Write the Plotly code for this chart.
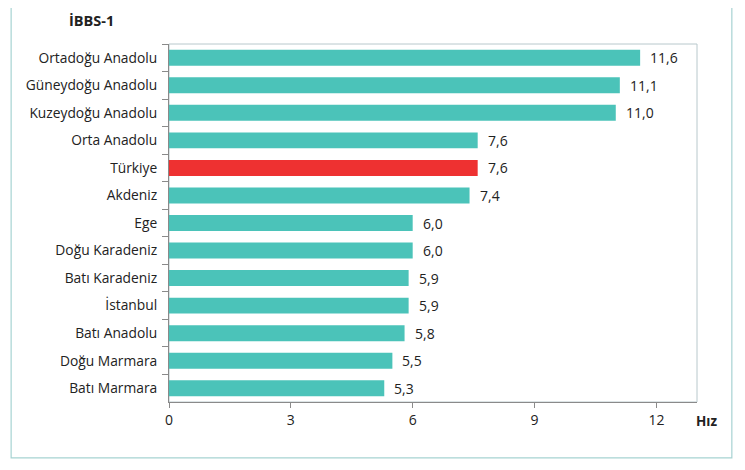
import plotly.graph_objects as go

regions = ["Ortadoğu Anadolu", "Güneydoğu Anadolu", "Kuzeydoğu Anadolu", "Orta Anadolu",
           "Türkiye", "Akdeniz", "Ege", "Doğu Karadeniz", "Batı Karadeniz", "İstanbul",
           "Batı Anadolu", "Doğu Marmara", "Batı Marmara"]
rates = [11.6, 11.1, 11.0, 7.6, 7.6, 7.4, 6.0, 6.0, 5.9, 5.9, 5.8, 5.5, 5.3]
x_ticks = [0, 3, 6, 9, 12]

TEAL = "#4BC3B9"
RED = "#EE3131"
colors = [RED if r == "Türkiye" else TEAL for r in regions]
labels = [f"{v:.1f}".replace(".", ",") for v in rates]
FONT = "Open Sans"

fig = go.Figure(go.Bar(
    x=rates, y=regions, orientation="h",
    marker=dict(color=colors, line=dict(width=0)),
    hoverinfo="skip",
))

for r, v, t in zip(regions, rates, labels):
    fig.add_annotation(x=v, y=r, text=t, showarrow=False, xanchor="left",
                       xshift=8, font=dict(family=FONT, size=14, color="#222"))

fig.add_annotation(x=-0.193, y=1.067, xref="paper", yref="paper", text="<b>İBBS-1</b>",
                   showarrow=False, xanchor="left", yanchor="middle",
                   font=dict(family=FONT, size=14.5, color="#222"))
fig.add_annotation(x=0.994, y=-0.053, xref="paper", yref="paper", text="<b>Hız</b>",
                   showarrow=False, xanchor="left", yanchor="middle",
                   font=dict(family=FONT, size=13.5, color="#222"))

# outer chart border
fig.add_shape(type="rect", xref="paper", yref="paper", x0=-0.299, x1=1.066, y0=-0.156, y1=1.103,
              line=dict(color="#A7D3D2", width=1.2), layer="below")
# plot area border
fig.add_shape(type="rect", xref="paper", yref="paper", x0=0, x1=1, y0=0, y1=1,
              line=dict(color="#B8C8CC", width=1), layer="below")

fig.update_layout(
    width=737, height=462,
    margin=dict(l=161, r=48, t=36, b=68),
    paper_bgcolor="white", plot_bgcolor="white",
    bargap=0.42, showlegend=False,
    font=dict(family=FONT, size=14, color="#222"),
    xaxis=dict(range=[0, 13], tickvals=x_ticks, ticktext=[str(t) for t in x_ticks],
               showgrid=False, zeroline=False, showline=True, linecolor="#8A8A8A",
               ticks="outside", ticklen=5, tickcolor="#8A8A8A",
               tickfont=dict(family=FONT, size=14, color="#222")),
    yaxis=dict(autorange="reversed", showgrid=False, zeroline=False, showline=True,
               linecolor="#8A8A8A", ticks="outside", ticklen=6, tickcolor="#8A8A8A",
               tickson="boundaries", ticklabelstandoff=8,
               tickfont=dict(family=FONT, size=13.8, color="#222")),
)

fig.write_html("out.html")
